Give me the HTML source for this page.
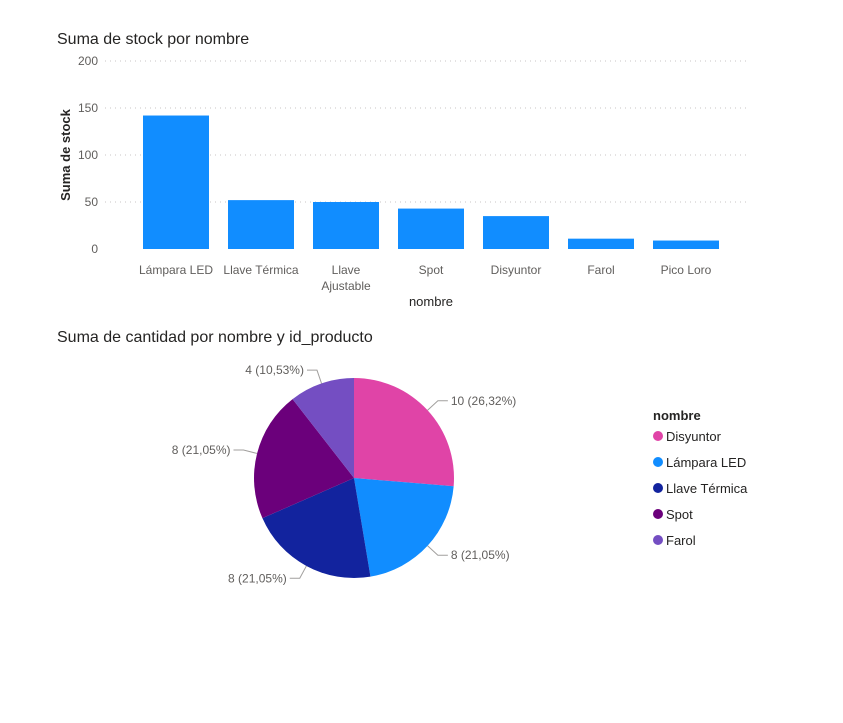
<!DOCTYPE html>
<html><head><meta charset="utf-8"><style>
body{margin:0;background:#fff;width:843px;height:718px;overflow:hidden;font-family:"Liberation Sans",sans-serif}
svg text{font-family:"Liberation Sans",sans-serif}
</style></head><body>
<svg id="c" width="843" height="718">
<text x="57" y="44" font-size="16" fill="#252423">Suma de stock por nombre</text>
<text x="57" y="342" font-size="16" fill="#252423">Suma de cantidad por nombre y id_producto</text>
<text transform="translate(70,155) rotate(-90)" text-anchor="middle" font-size="13" font-weight="bold" fill="#252423">Suma de stock</text>
<text x="431" y="306" text-anchor="middle" font-size="13" fill="#252423">nombre</text>
<text x="653" y="420" font-size="13" font-weight="bold" fill="#252423">nombre</text>
<g id="bars"></g><g id="pie"></g><g id="legend"></g>
</svg>
<script>
const categories=["Lámpara LED","Llave Térmica","Llave Ajustable","Spot","Disyuntor","Farol","Pico Loro"];
const stock=[142,52,50,43,35,11,9];
const yTicks=[0,50,100,150,200];
const pieNames=["Disyuntor","Lámpara LED","Llave Térmica","Spot","Farol"];
const pieValues=[10,8,8,8,4];
const pieLabels=["10 (26,32%)","8 (21,05%)","8 (21,05%)","8 (21,05%)","4 (10,53%)"];
const colors=["#E044A7","#118DFF","#12239E","#6B007B","#744EC2"];
const NS="http://www.w3.org/2000/svg";
function mk(t,a,p){const e=document.createElementNS(NS,t);for(const k in a)e.setAttribute(k,a[k]);p.appendChild(e);return e;}
const y0=249,y1=61,ymax=200,x0=133.5,band=85;
const Y=v=>y0-(v/ymax)*(y0-y1);
const X=i=>x0+i*band;
const bars=document.getElementById('bars');
yTicks.forEach(t=>{
 if(t>0){const l=mk('line',{x1:105,x2:750,y1:Y(t),y2:Y(t),stroke:'#c8c6c4','stroke-dasharray':'1 4'},bars);
 
 }
 const tx=mk('text',{x:98,y:Y(t)+4,'text-anchor':'end','font-size':12,fill:'#605E5C'},bars);tx.textContent=t;
 
 
});
categories.forEach((c,i)=>{
 const r=mk('rect',{x:X(i)+9.5,y:Y(stock[i]),width:66,height:y0-Y(stock[i]),fill:'#118DFF'},bars);
 
 
 const cx=X(i)+band/2;
 const parts=c==="Llave Ajustable"?["Llave","Ajustable"]:[c];
 parts.forEach((p,j)=>{const t=mk('text',{x:cx,y:274+j*16,'text-anchor':'middle','font-size':12,fill:'#605E5C'},bars);t.textContent=p;
 
 });
});
const pie=document.getElementById('pie');
const cx=354,cy=478,R=100,tot=pieValues.reduce((a,b)=>a+b,0);
let a=0;
pieValues.forEach((v,i)=>{
 const a1=a+v/tot*2*Math.PI;
 const P=(ang,r)=>[cx+r*Math.sin(ang),cy-r*Math.cos(ang)];
 const [sx,sy]=P(a,R),[ex,ey]=P(a1,R);
 const s=mk('path',{d:`M${cx},${cy}L${sx},${sy}A${R},${R} 0 ${a1-a>Math.PI?1:0} 1 ${ex},${ey}Z`,fill:colors[i]},pie);
 
 
 const m=(a+a1)/2,[px,py]=P(m,R),[qx,qy]=P(m,R+14);
 const right=Math.sin(m)>=0,hx=qx+(right?10:-10);
 const l=mk('polyline',{points:`${px},${py} ${qx},${qy} ${hx},${qy}`,fill:'none',stroke:'#a19f9d'},pie);
 
 
 const t=mk('text',{x:hx+(right?3:-3),y:qy+4,'text-anchor':right?'start':'end','font-size':12,fill:'#605E5C'},pie);t.textContent=pieLabels[i];
 
 
 a=a1;
});
const lg=document.getElementById('legend');
pieNames.forEach((n,i)=>{
 const y=436+i*26;
 const c=mk('circle',{cx:658,cy:y,r:5,fill:colors[i]},lg);
 
 
 const t=mk('text',{x:666,y:y+5,'font-size':13,fill:'#252423'},lg);t.textContent=n;
 
 
});
</script>
</body></html>
